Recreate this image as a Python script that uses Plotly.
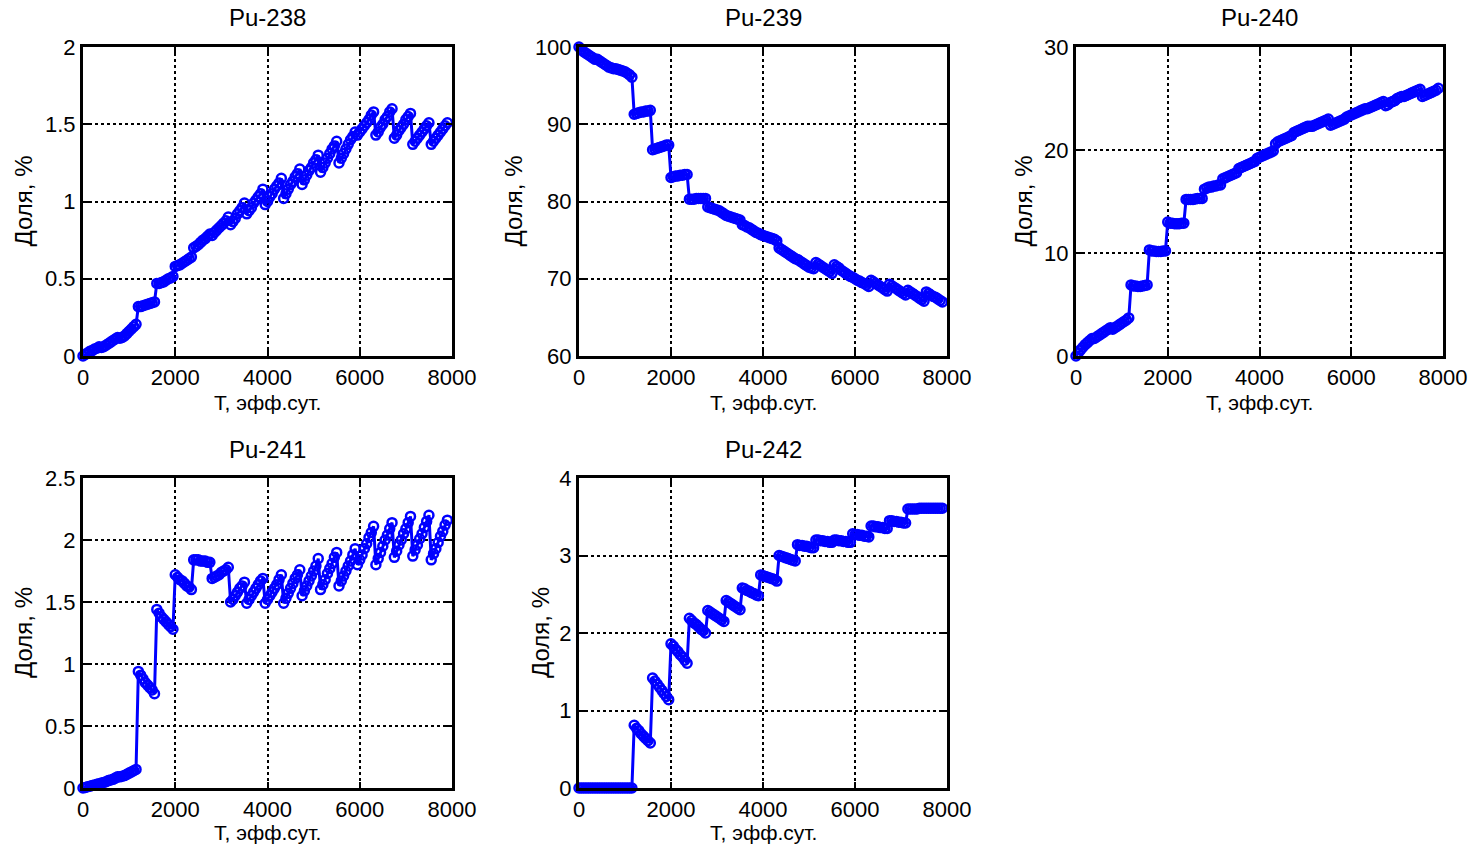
import plotly.graph_objects as go

# Time grid, effective days
T = [0, 50, 100, 150, 200, 250, 300, 350, 400, 450, 500, 550, 600, 650, 700, 750,
     800, 850, 900, 950, 1000, 1050, 1100, 1150, 1200, 1250, 1300, 1350, 1400, 1450, 1500, 1550,
     1600, 1650, 1700, 1750, 1800, 1850, 1900, 1950, 2000, 2050, 2100, 2150, 2200, 2250, 2300, 2350,
     2400, 2450, 2500, 2550, 2600, 2650, 2700, 2750, 2800, 2850, 2900, 2950, 3000, 3050, 3100, 3150,
     3200, 3250, 3300, 3350, 3400, 3450, 3500, 3550, 3600, 3650, 3700, 3750, 3800, 3850, 3900,
     3950, 4000, 4050, 4100, 4150, 4200, 4250, 4300, 4350, 4400, 4450, 4500, 4550, 4600, 4650, 4700,
     4750, 4800, 4850, 4900, 4950, 5000, 5050, 5100, 5150, 5200, 5250, 5300, 5350, 5400, 5450, 5500,
     5550, 5600, 5650, 5700, 5750, 5800, 5850, 5900, 5950, 6000, 6050, 6100, 6150, 6200, 6250, 6300,
     6350, 6400, 6450, 6500, 6550, 6600, 6650, 6700, 6750, 6800, 6850, 6900, 6950, 7000, 7050, 7100,
     7150, 7200, 7250, 7300, 7350, 7400, 7450, 7500, 7550, 7600, 7650, 7700, 7750, 7800, 7850, 7900]

pu238 = [0, 0.01, 0.02, 0.03, 0.035, 0.045, 0.05, 0.06,
         0.055, 0.06, 0.07, 0.08, 0.09, 0.10, 0.11, 0.12,
         0.115, 0.12, 0.13, 0.145, 0.16, 0.175, 0.19, 0.205,
         0.32, 0.32, 0.325, 0.33, 0.335, 0.34, 0.345, 0.35,
         0.47, 0.47, 0.475, 0.48, 0.49, 0.50, 0.505, 0.515,
         0.58, 0.585, 0.59, 0.60, 0.61, 0.62, 0.63, 0.64,
         0.70, 0.71, 0.72, 0.735, 0.75, 0.76, 0.775, 0.79,
         0.78, 0.80, 0.815, 0.83, 0.845, 0.86, 0.875, 0.90,
         0.85, 0.87, 0.89, 0.92, 0.94, 0.96, 0.99,
         0.92, 0.94, 0.96, 0.99, 1.01, 1.03, 1.05, 1.08,
         0.98, 1.00, 1.03, 1.05, 1.08, 1.10, 1.12, 1.15,
         1.02, 1.05, 1.08, 1.11, 1.13, 1.16, 1.18, 1.21,
         1.11, 1.14, 1.17, 1.20, 1.22, 1.25, 1.27, 1.30,
         1.19, 1.22, 1.25, 1.28, 1.31, 1.34, 1.36, 1.39,
         1.25, 1.28, 1.31, 1.34, 1.37, 1.40, 1.42, 1.45,
         1.43, 1.45, 1.47, 1.49, 1.51, 1.53, 1.56, 1.58,
         1.43, 1.45, 1.48, 1.50, 1.53, 1.55, 1.58, 1.60,
         1.41, 1.43, 1.46, 1.48, 1.50, 1.53, 1.55, 1.57,
         1.37, 1.39, 1.41, 1.43, 1.45, 1.47, 1.49, 1.51,
         1.37, 1.39, 1.41, 1.43, 1.45, 1.47, 1.49, 1.51]

pu239 = [100, 99.7, 99.4, 99.2, 99.0, 98.8, 98.6, 98.4,
         98.4, 98.2, 98.0, 97.8, 97.6, 97.4, 97.3, 97.2,
         97.2, 97.1, 97.0, 96.9, 96.8, 96.6, 96.4, 96.1,
         91.3, 91.4, 91.5, 91.6, 91.6, 91.7, 91.7, 91.8,
         86.7, 86.8, 86.9, 87.0, 87.1, 87.2, 87.3, 87.3,
         83.1, 83.2, 83.3, 83.3, 83.4, 83.4, 83.5, 83.5,
         80.3, 80.3, 80.3, 80.4, 80.4, 80.4, 80.4, 80.4,
         79.3, 79.2, 79.1, 79.0, 78.9, 78.8, 78.6, 78.4,
         78.2, 78.1, 78.0, 77.9, 77.8, 77.7, 77.6,
         77.0, 76.9, 76.7, 76.6, 76.4, 76.2, 76.0, 75.9,
         75.7, 75.6, 75.5, 75.4, 75.3, 75.2, 75.1, 74.9,
         74.0, 73.8, 73.6, 73.4, 73.2, 73.0, 72.8, 72.6,
         72.5, 72.3, 72.1, 71.9, 71.7, 71.5, 71.4, 71.3,
         72.1, 71.9, 71.7, 71.5, 71.3, 71.1, 70.9, 70.7,
         71.8, 71.6, 71.4, 71.1, 70.9, 70.7, 70.5, 70.3,
         70.2, 70.0, 69.8, 69.7, 69.5, 69.4, 69.2, 69.0,
         69.8, 69.6, 69.4, 69.2, 69.0, 68.8, 68.6, 68.4,
         69.3, 69.1, 68.9, 68.7, 68.5, 68.3, 68.1, 67.9,
         68.5, 68.3, 68.1, 67.9, 67.7, 67.5, 67.3, 67.1,
         68.3, 68.1, 67.9, 67.7, 67.6, 67.4, 67.2, 67.0]

pu240 = [0, 0.3, 0.6, 0.85, 1.1, 1.3, 1.5, 1.7,
         1.7, 1.85, 2.0, 2.15, 2.3, 2.45, 2.6, 2.75,
         2.6, 2.75, 2.9, 3.05, 3.2, 3.35, 3.5, 3.7,
         6.9, 6.8, 6.8, 6.75, 6.75, 6.8, 6.85, 6.9,
         10.3, 10.2, 10.2, 10.15, 10.15, 10.15, 10.2, 10.2,
         13.0, 12.9, 12.9, 12.85, 12.85, 12.85, 12.9, 12.9,
         15.2, 15.2, 15.2, 15.2, 15.25, 15.3, 15.3, 15.3,
         16.2, 16.3, 16.4, 16.4, 16.5, 16.5, 16.6, 16.6,
         17.2, 17.3, 17.4, 17.5, 17.6, 17.7, 17.8,
         18.2, 18.3, 18.4, 18.5, 18.6, 18.7, 18.8, 18.9,
         19.2, 19.3, 19.4, 19.5, 19.6, 19.7, 19.8, 19.9,
         20.6, 20.8, 20.9, 21.0, 21.1, 21.2, 21.3, 21.4,
         21.7, 21.8, 21.9, 22.0, 22.1, 22.2, 22.3, 22.3,
         22.3, 22.4, 22.5, 22.6, 22.7, 22.8, 22.9, 23.0,
         22.4, 22.5, 22.6, 22.7, 22.8, 22.9, 23.0, 23.2,
         23.3, 23.4, 23.5, 23.6, 23.7, 23.8, 23.9, 24.0,
         24.0, 24.1, 24.2, 24.3, 24.4, 24.5, 24.6, 24.7,
         24.3, 24.4, 24.6, 24.7, 24.8, 25.0, 25.1, 25.2,
         25.2, 25.3, 25.4, 25.5, 25.6, 25.7, 25.8, 25.9,
         25.2, 25.3, 25.4, 25.5, 25.6, 25.7, 25.8, 26.0]

pu241 = [0, 0.005, 0.01, 0.015, 0.02, 0.025, 0.03, 0.035,
         0.04, 0.045, 0.05, 0.06, 0.065, 0.07, 0.08, 0.09,
         0.09, 0.095, 0.10, 0.11, 0.12, 0.13, 0.14, 0.15,
         0.94, 0.91, 0.88, 0.85, 0.83, 0.81, 0.79, 0.76,
         1.44, 1.41, 1.38, 1.36, 1.34, 1.32, 1.30, 1.28,
         1.72, 1.70, 1.68, 1.67, 1.65, 1.63, 1.62, 1.60,
         1.84, 1.84, 1.84, 1.83, 1.83, 1.83, 1.82, 1.82,
         1.69, 1.70, 1.71, 1.72, 1.74, 1.75, 1.76, 1.78,
         1.50, 1.52, 1.55, 1.58, 1.61, 1.63, 1.66,
         1.49, 1.52, 1.55, 1.58, 1.61, 1.64, 1.67, 1.69,
         1.49, 1.52, 1.55, 1.58, 1.61, 1.64, 1.68, 1.72,
         1.49, 1.53, 1.57, 1.61, 1.65, 1.69, 1.72, 1.76,
         1.55, 1.59, 1.63, 1.67, 1.71, 1.75, 1.79, 1.85,
         1.60, 1.64, 1.68, 1.73, 1.77, 1.81, 1.86, 1.90,
         1.63, 1.67, 1.71, 1.75, 1.79, 1.83, 1.88, 1.93,
         1.80, 1.84, 1.88, 1.93, 1.97, 2.02, 2.06, 2.11,
         1.80, 1.85, 1.90, 1.95, 2.00, 2.04, 2.09, 2.14,
         1.86, 1.91, 1.96, 2.00, 2.05, 2.09, 2.14, 2.19,
         1.87, 1.92, 1.96, 2.01, 2.05, 2.10, 2.15, 2.20,
         1.84, 1.89, 1.93, 1.98, 2.03, 2.07, 2.12, 2.16]

pu242 = [0, 0, 0, 0, 0, 0, 0, 0,
         0, 0, 0, 0, 0, 0, 0, 0,
         0, 0, 0, 0, 0, 0, 0, 0,
         0.81, 0.77, 0.74, 0.70, 0.67, 0.64, 0.61, 0.58,
         1.42, 1.38, 1.34, 1.30, 1.26, 1.22, 1.18, 1.14,
         1.86, 1.83, 1.79, 1.76, 1.72, 1.69, 1.65, 1.61,
         2.19, 2.16, 2.13, 2.11, 2.08, 2.05, 2.03, 2.00,
         2.29, 2.27, 2.25, 2.23, 2.21, 2.19, 2.17, 2.15,
         2.42, 2.40, 2.38, 2.36, 2.34, 2.32, 2.30,
         2.58, 2.57, 2.55, 2.54, 2.52, 2.51, 2.49, 2.48,
         2.75, 2.74, 2.73, 2.72, 2.71, 2.70, 2.69, 2.67,
         3.00, 2.99, 2.98, 2.97, 2.96, 2.95, 2.94, 2.93,
         3.14, 3.13, 3.13, 3.12, 3.12, 3.11, 3.10, 3.10,
         3.20, 3.20, 3.19, 3.19, 3.18, 3.18, 3.17, 3.17,
         3.20, 3.20, 3.19, 3.19, 3.18, 3.18, 3.17, 3.17,
         3.28, 3.27, 3.27, 3.26, 3.26, 3.25, 3.25, 3.24,
         3.38, 3.38, 3.37, 3.37, 3.36, 3.36, 3.35, 3.35,
         3.45, 3.45, 3.44, 3.44, 3.43, 3.43, 3.42, 3.42,
         3.60, 3.60, 3.60, 3.60, 3.60, 3.61, 3.61, 3.61,
         3.61, 3.61, 3.61, 3.61, 3.61, 3.61, 3.61, 3.61]

titles = ["Pu-238", "Pu-239", "Pu-240", "Pu-241", "Pu-242"]
series = [pu238, pu239, pu240, pu241, pu242]
y_ranges = [[0, 2], [60, 100], [0, 30], [0, 2.5], [0, 4]]
y_dticks = [0.5, 10, 10, 0.5, 1]
x_range = [0, 8000]
x_dtick = 2000
x_label = "T, эфф.сут."
y_label = "Доля, %"

W, H = 1478, 845
# panel pixel boxes: left, right, top, bottom
boxes = [(83, 452, 47, 356), (579, 947, 47, 356), (1076, 1443, 47, 356),
         (83, 452, 478, 788), (579, 947, 478, 788)]
ytitle_px = [23, 513, 1023, 23, 540]
xlabel_gap = [46, 46, 46, 44, 44]

FONT = "Liberation Sans, Arial, sans-serif"
fig = go.Figure()
ann = []
layout = {}
for i, (ttl, ys, yr, yd, box, ytx, gap) in enumerate(
        zip(titles, series, y_ranges, y_dticks, boxes, ytitle_px, xlabel_gap)):
    assert len(ys) == len(T)
    l, r, t, b = box
    n = "" if i == 0 else str(i + 1)
    fig.add_trace(go.Scatter(
        x=T, y=ys, xaxis="x" + n, yaxis="y" + n, mode="lines+markers",
        line=dict(color="#0000FF", width=3),
        marker=dict(symbol="circle-open", size=9, color="#0000FF", line=dict(width=2.5, color="#0000FF")),
        cliponaxis=False, showlegend=False))
    common = dict(showline=True, linewidth=3, linecolor="black", mirror="ticks",
                  ticks="inside", ticklen=6, tickwidth=1.5, tickcolor="black",
                  showgrid=True, gridcolor="black", griddash="dot", gridwidth=1.5,
                  zeroline=False, automargin=False,
                  tickfont=dict(family=FONT, size=22, color="black"))
    layout["xaxis" + n] = dict(domain=[l / W, r / W], range=x_range, dtick=x_dtick, tick0=0,
                               anchor="y" + n, **common)
    layout["yaxis" + n] = dict(domain=[1 - b / H, 1 - t / H], range=yr, dtick=yd, tick0=yr[0],
                               anchor="x" + n, **common)
    cx = (l + r) / 2 / W
    ann.append(dict(text=ttl, x=cx, y=1 - (t - 29) / H, xref="paper", yref="paper",
                    xanchor="center", yanchor="middle", showarrow=False,
                    font=dict(family=FONT, size=24, color="black")))
    ann.append(dict(text=x_label, x=cx, y=1 - (b + gap) / H, xref="paper", yref="paper",
                    xanchor="center", yanchor="middle", showarrow=False,
                    font=dict(family=FONT, size=21, color="black")))
    ann.append(dict(text=y_label, x=ytx / W, y=1 - (t + b) / 2 / H, xref="paper", yref="paper",
                    xanchor="center", yanchor="middle", showarrow=False, textangle=-90,
                    font=dict(family=FONT, size=24, color="black")))

fig.update_layout(template="none", width=W, height=H, autosize=False,
                  margin=dict(l=0, r=0, t=0, b=0, pad=0),
                  paper_bgcolor="white", plot_bgcolor="white", annotations=ann, **layout)
fig.write_html("out.html", config={"displayModeBar": False},
               post_script="document.body.style.margin='0';document.body.style.overflow='hidden';")
